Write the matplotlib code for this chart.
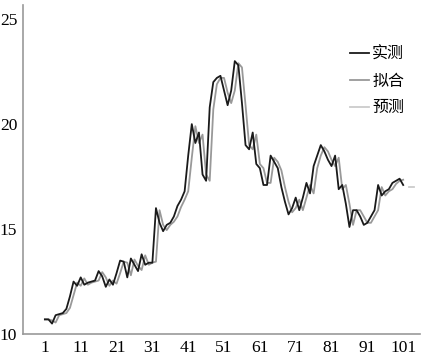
import matplotlib
matplotlib.use("Agg")
import matplotlib.pyplot as plt
import numpy as np

actual = [10.7, 10.7, 10.5, 10.9, 10.95, 11.0, 11.2, 11.8, 12.5, 12.3,
          12.7, 12.35, 12.45, 12.5, 12.55, 13.0, 12.75, 12.25, 12.6, 12.35,
          12.9, 13.5, 13.45, 12.7, 13.6, 13.3, 13.0, 13.8, 13.3, 13.4,
          13.4, 16.0, 15.3, 14.9, 15.2, 15.3, 15.6, 16.1, 16.4, 16.8,
          18.5, 20.0, 19.1, 19.6, 17.6, 17.3, 20.8, 22.0, 22.2, 22.3,
          21.6, 20.9, 21.6, 23.0, 22.8, 21.0, 19.0, 18.8, 19.6, 18.1,
          17.9, 17.1, 17.1, 18.5, 18.2, 17.9, 17.0, 16.3, 15.7, 16.0,
          16.5, 15.9, 16.5, 17.2, 16.7, 18.0, 18.5, 19.0, 18.7, 18.3,
          18.0, 18.5, 16.9, 17.1, 16.2, 15.1, 15.9, 15.9, 15.6, 15.2,
          15.3, 15.6, 15.9, 17.1, 16.6, 16.8, 16.9, 17.2, 17.3, 17.4, 17.1]

fitted = [10.7, 10.7, 10.65, 10.55, 10.9, 10.95, 11.0, 11.25, 11.85, 12.45,
          12.3, 12.65, 12.35, 12.45, 12.5, 12.55, 12.95, 12.7, 12.3, 12.55,
          12.4, 12.9, 13.45, 13.4, 12.8, 13.55, 13.25, 13.05, 13.75, 13.3,
          13.4, 13.45, 15.9, 15.2, 14.95, 15.2, 15.35, 15.6, 16.05, 16.4,
          16.8, 18.4, 19.9, 19.1, 19.5, 17.6, 17.3, 20.7, 21.9, 22.2,
          22.2, 21.5, 21.0, 21.6, 22.9, 22.7, 20.9, 19.0, 18.8, 19.5,
          18.1, 17.9, 17.2, 17.2, 18.4, 18.2, 17.8, 17.0, 16.3, 15.8,
          16.0, 16.4, 15.9, 16.5, 17.1, 16.7, 17.9, 18.5, 18.9, 18.7,
          18.3, 18.0, 18.4, 16.9, 17.1, 16.2, 15.2, 15.9, 15.9, 15.6,
          15.3, 15.3, 15.6, 15.9, 17.0, 16.6, 16.8, 16.9, 17.15, 17.3, 17.35]

pred_x = [102.6, 104.0]
pred = [17.0, 17.0]

x = np.arange(1, len(actual) + 1)
tick_pos = [1, 11, 21, 31, 41, 51, 61, 71, 81, 91, 101]
ytick_pos = [10, 15, 20, 25]

fig = plt.figure(figsize=(4.23, 3.6), dpi=100)
ax = fig.add_axes([0.054, 0.072, 0.939, 0.914])

ax.plot(x, actual, color="#1a1a1a", lw=1.3, label="实测", zorder=3)
ax.plot(x, fitted, color="#999999", lw=1.3, label="拟合", zorder=2)
ax.plot(pred_x, pred, color="#cccccc", lw=1.3, label="预测", zorder=1)

ax.set_xlim(-5.15, 105.7)
ax.set_ylim(10, 25.67)
ax.set_xticks(tick_pos)
ax.set_yticks(ytick_pos)
for lab in ax.get_xticklabels() + ax.get_yticklabels():
    lab.set_fontfamily("Liberation Serif")
    lab.set_fontsize(12.5)
ax.tick_params(length=0, pad=4)
for s in ["top", "right"]:
    ax.spines[s].set_visible(False)
for s in ["left", "bottom"]:
    ax.spines[s].set_color("#999999")
    ax.spines[s].set_linewidth(1.2)

leg = ax.legend(loc="upper right", bbox_to_anchor=(0.976, 0.895), frameon=False,
                prop={"family": ["Noto Sans CJK SC", "DejaVu Sans"], "size": 11.5},
                handlelength=1.2, handletextpad=0.2, labelspacing=0.6, borderaxespad=0)

fig.savefig("out.png", dpi=100)
